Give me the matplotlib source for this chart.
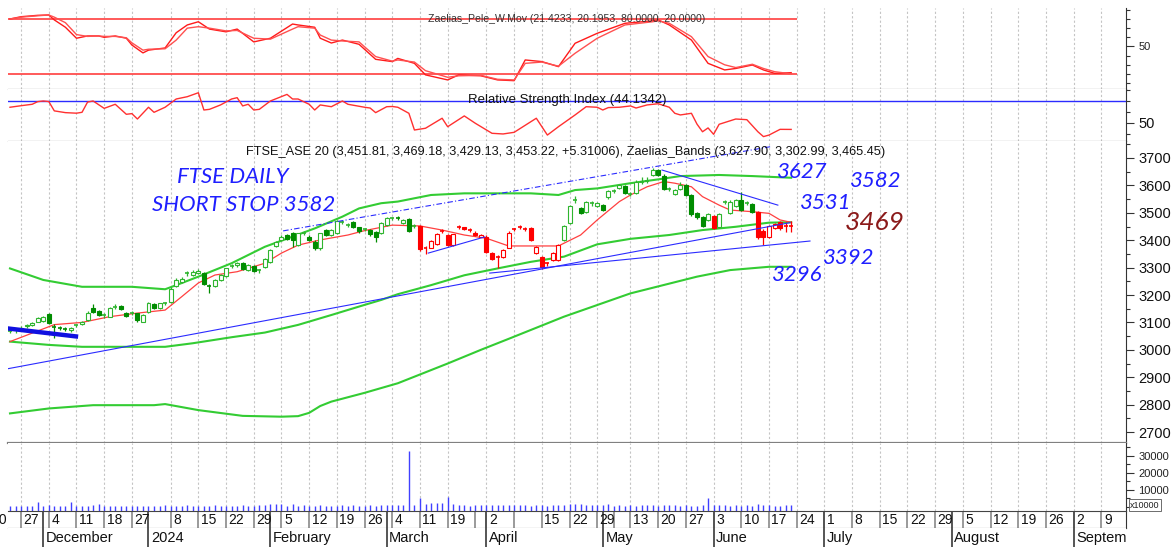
import matplotlib
matplotlib.use("Agg")
import matplotlib.pyplot as plt
from matplotlib.patches import Rectangle
from matplotlib.ticker import MultipleLocator, FixedLocator

plt.rcParams['font.family'] = ['Liberation Sans', 'DejaVu Sans']

# ---- daily candles, trading-day index 0 = 23 Nov 2023 ... 141 = 21 Jun 2024 ----
opens = [
    3068, 3071, 3075, 3086, 3090, 3103, 3105, 3132, 3086, 3080,
    3078, 3072, 3088, 3093, 3108, 3151, 3142, 3126, 3121, 3156,
    3160, 3135, 3132, 3133, 3103, 3139, 3167, 3151, 3169, 3175,
    3233, 3248, 3278, 3272, 3280, 3279, 3234, 3233, 3255, 3270,
    3305, 3308, 3318, 3291, 3306, 3289, 3304, 3321, 3380, 3401,
    3420, 3425, 3383, 3424, 3413, 3395, 3370, 3437, 3419, 3425,
    3467, 3455, 3465, 3447, 3439, 3437, 3431, 3425, 3456, 3479,
    3481, 3463, 3478, 3451, 3452, 3374, 3373, 3385, 3433, 3419,
    3382, 3449, 3447, 3436, 3428, 3413, 3413, 3352, 3341, 3340,
    3373, 3439, 3446, 3441, 3443, 3352, 3340, 3314, 3328, 3328,
    3401, 3462, 3546, 3517, 3504, 3534, 3523, 3529, 3556, 3579,
    3590, 3596, 3567, 3571, 3613, 3616, 3638, 3656, 3635, 3586,
    3568, 3587, 3602, 3565, 3500, 3483, 3474, 3489, 3447, 3539,
    3500, 3525, 3547, 3534, 3532, 3502, 3435, 3411, 3443, 3465,
    3452, 3451.81]
highs = [
    3078, 3080, 3086, 3094, 3102, 3118, 3122, 3136, 3096, 3086,
    3084, 3084, 3096, 3106, 3140, 3167, 3146, 3134, 3155, 3166,
    3164, 3138, 3140, 3136, 3130, 3174, 3170, 3172, 3176, 3228,
    3262, 3264, 3286, 3290, 3294, 3283, 3240, 3258, 3276, 3300,
    3312, 3320, 3322, 3314, 3310, 3296, 3334, 3368, 3398, 3418,
    3424, 3430, 3428, 3432, 3418, 3399, 3428, 3442, 3440, 3475,
    3474, 3462, 3469, 3450, 3446, 3440, 3434, 3466, 3484, 3486,
    3488, 3478, 3482, 3458, 3456, 3380, 3400, 3425, 3442, 3423,
    3424, 3456, 3450, 3444, 3432, 3424, 3418, 3356, 3346, 3368,
    3432, 3446, 3454, 3448, 3447, 3380, 3344, 3320, 3356, 3386,
    3456, 3527, 3560, 3522, 3542, 3542, 3540, 3533, 3585, 3588,
    3606, 3600, 3576, 3618, 3630, 3632, 3662, 3660, 3640, 3594,
    3587, 3614, 3606, 3569, 3504, 3487, 3500, 3493, 3499, 3546,
    3545, 3552, 3577, 3542, 3536, 3506, 3440, 3457, 3463, 3470,
    3466, 3469.18]
lows = [
    3060, 3062, 3068, 3080, 3087, 3100, 3100, 3094, 3042, 3072,
    3070, 3066, 3082, 3090, 3105, 3136, 3124, 3116, 3118, 3148,
    3144, 3118, 3126, 3100, 3100, 3136, 3148, 3149, 3162, 3170,
    3228, 3244, 3270, 3268, 3276, 3236, 3209, 3230, 3251, 3266,
    3298, 3304, 3290, 3288, 3284, 3280, 3300, 3318, 3376, 3398,
    3400, 3375, 3380, 3418, 3396, 3366, 3366, 3415, 3416, 3422,
    3460, 3448, 3446, 3428, 3432, 3417, 3395, 3422, 3452, 3472,
    3474, 3460, 3430, 3444, 3362, 3350, 3370, 3382, 3426, 3378,
    3379, 3442, 3436, 3430, 3414, 3410, 3354, 3326, 3300, 3336,
    3370, 3432, 3440, 3433, 3396, 3349, 3296, 3306, 3324, 3325,
    3398, 3458, 3536, 3494, 3500, 3526, 3520, 3506, 3552, 3572,
    3586, 3567, 3560, 3568, 3606, 3610, 3634, 3634, 3582, 3578,
    3564, 3584, 3560, 3490, 3478, 3447, 3470, 3440, 3444, 3532,
    3497, 3520, 3506, 3527, 3498, 3406, 3382, 3408, 3440, 3438,
    3430, 3429.13]
closes = [
    3070, 3073, 3078, 3090, 3098, 3115, 3120, 3098, 3084, 3079,
    3077, 3080, 3090, 3103, 3136, 3139, 3127, 3127, 3151, 3157,
    3148, 3124, 3133, 3108, 3127, 3170, 3151, 3170, 3170, 3221,
    3255, 3258, 3279, 3285, 3288, 3240, 3233, 3255, 3273, 3297,
    3306, 3316, 3294, 3310, 3288, 3290, 3330, 3364, 3394, 3413,
    3405, 3401, 3425, 3425, 3401, 3370, 3425, 3419, 3437, 3471,
    3468, 3456, 3450, 3432, 3440, 3421, 3413, 3462, 3480, 3480,
    3480, 3474, 3434, 3452, 3367, 3373, 3397, 3421, 3434, 3382,
    3421, 3450, 3440, 3437, 3419, 3419, 3358, 3330, 3340, 3364,
    3428, 3440, 3447, 3440, 3401, 3376, 3303, 3315, 3352, 3382,
    3452, 3523, 3547, 3498, 3538, 3535, 3535, 3510, 3580, 3580,
    3602, 3571, 3568, 3614, 3614, 3617, 3656, 3638, 3587, 3587,
    3583, 3602, 3565, 3495, 3483, 3452, 3495, 3444, 3495, 3540,
    3541, 3547, 3510, 3535, 3502, 3411, 3411, 3453, 3459, 3443,
    3453, 3453.22]
color_runs = [("g", 74), ("r", 26), ("g", 27), ("r", 1), ("g", 7), ("r", 7)]

volume = [
    400, 600, 300, 700, 500, 2900, 500, 900, 300, 600,
    400, 2900, 500, 700, 400, 1000, 1600, 600, 300, 800,
    500, 300, 600, 400, 300, 700, 400, 600, 900, 500,
    800, 500, 900, 600, 400, 800, 500, 1000, 700, 500,
    600, 400, 900, 500, 700, 1000, 1300, 1600, 1500, 1600,
    800, 1600, 700, 900, 500, 600, 1100, 500, 800, 600,
    900, 500, 1000, 700, 600, 1200, 800, 900, 1100, 900,
    1000, 900, 33000, 1200, 5300, 1500, 2300, 2100, 2300, 5700,
    1500, 1400, 1300, 700, 1400, 1100, 900, 1200, 1000, 1100,
    900, 1000, 1100, 1000, 700, 1000, 1100, 800, 1400, 1000,
    900, 1900, 1900, 1500, 1300, 1000, 1200, 900, 1900, 800,
    1000, 700, 1200, 600, 900, 1200, 1200, 800, 1200, 1000,
    1100, 700, 1100, 500, 700, 900, 5300, 900, 1000, 1300,
    800, 1000, 700, 900, 800, 1500, 1100, 1200, 800, 600,
    1100, 1300]

# ---- overlays (index, value) ----
ma_idx = [0, 8, 13, 18, 23, 28, 31, 34, 37, 41, 46, 49, 52, 56, 61, 64, 69, 74, 78, 82,
          86, 90, 94, 99, 100, 103, 106, 110, 112, 115, 118, 120, 123, 125, 128, 130, 134, 137, 139, 141]
ma_val = [3030, 3092, 3100, 3121, 3134, 3145, 3194, 3244, 3273, 3285, 3316, 3353, 3382, 3401, 3419, 3435,
          3455, 3452, 3437, 3419, 3407, 3379, 3379, 3379, 3389, 3419, 3474, 3541, 3565, 3595, 3614, 3608,
          3595, 3559, 3528, 3510, 3504, 3498, 3474, 3465]
ub_idx = [0, 6, 13, 22, 28, 30, 34, 40, 46, 51, 55, 60, 63, 67, 70, 76, 82, 88, 94, 99,
          102, 106, 112, 117, 121, 128, 134, 141]
ub_val = [3297, 3255, 3230, 3230, 3221, 3236, 3267, 3316, 3376, 3413, 3443, 3486, 3516, 3535, 3541, 3565,
          3571, 3571, 3571, 3565, 3583, 3589, 3608, 3622, 3634, 3638, 3634, 3627.9]
mb_idx = [0, 7, 13, 28, 33, 40, 46, 52, 58, 64, 67, 70, 76, 82, 88, 94, 100, 106, 112, 119,
          125, 131, 137, 141]
mb_val = [3030, 3018, 3011, 3011, 3024, 3046, 3063, 3091, 3127, 3164, 3182, 3203, 3236, 3272, 3297, 3321,
          3340, 3385, 3405, 3419, 3437, 3449, 3464, 3465.45]
lb_idx = [0, 7, 15, 26, 28, 34, 42, 49, 52, 54, 56, 58, 64, 70, 79, 85, 90, 100, 112, 124,
          130, 137, 141]
lb_val = [2768, 2786, 2798, 2798, 2802, 2780, 2759, 2756, 2758, 2770, 2795, 2811, 2843, 2878, 2950, 3000,
          3040, 3121, 3206, 3267, 3291, 3303, 3302.99]

trend_thick = ([-0.4, 12.3], [3078, 3048])
trend_long = ([-0.4, 140.8], [2931, 3464])
trend_support = ([86.6, 144.4], [3280, 3397])
trend_march = ([75.5, 85.7], [3353, 3412])
trend_down = ([117.7, 138.6], [3656, 3528])
trend_channel = ([49.3, 137.2], [3434, 3741])

osc_idx = [0, 2, 5, 7, 8, 10, 12, 14, 16, 17, 19, 21, 22, 24, 25, 28, 30, 32, 34, 36,
           39, 41, 44, 47, 51, 52, 55, 56, 58, 60, 63, 66, 69, 70, 73, 75, 79, 81, 85, 88,
           91, 93, 96, 99, 102, 106, 111, 116, 117, 119, 123, 126, 129, 131, 134, 136, 138, 141]
osc_a = [80, 82.5, 84, 84.4, 79, 71, 59, 61.5, 61.5, 60, 61.5, 59, 51.6, 43, 46, 48.4, 65, 73.5, 77, 69,
         66, 69, 55, 59, 74.5, 73.5, 71, 59, 53.8, 57, 52.4, 36, 33.5, 37, 31.6, 19, 13.5, 19, 18, 13.5,
         12.7, 35.3, 33.5, 28, 53.5, 64.4, 75.3, 78, 79, 73.5, 57, 31.6, 24.4, 26, 29.8, 24.4, 20.7, 21.4233]
osc_b = [80, 82, 83.5, 84.4, 82, 76, 63, 61, 61.5, 61, 61, 59.5, 54, 46, 47, 47.5, 57, 70, 71.6, 70,
         67, 67.5, 59, 58, 69, 71.6, 70, 62.5, 57, 56, 55, 39, 34, 35.3, 33, 23.6, 16.4, 18, 18.5, 14.2,
         13.5, 31.6, 33, 28.5, 42.6, 59, 73.5, 77, 78, 75.3, 60.7, 39, 30, 27, 30.6, 26, 22.5, 20.1953]

rsi_idx = [0, 2, 4, 5, 6, 7, 8, 10, 12, 13, 14, 15, 17, 19, 21, 22, 23, 25, 26, 28,
           30, 32, 34, 35, 36, 38, 40, 41, 42, 43, 44, 45, 47, 50, 51, 52, 54, 55, 56, 58,
           60, 61, 64, 65, 66, 68, 69, 70, 72, 73, 75, 78, 79, 82, 84, 87, 89, 91, 95, 97,
           99, 102, 104, 106, 107, 108, 110, 112, 113, 115, 117, 119, 120, 121, 123, 124, 125, 126, 127, 128,
           131, 133, 135, 136, 137, 139, 141]
rsi_val = [64.3, 65.7, 67, 69.4, 70, 69.5, 61, 59.4, 58.9, 59.7, 69, 70, 63.3, 67, 57.9, 58.5, 53.6, 64.3, 59.7, 64.3,
           71.8, 73.9, 77.5, 61.8, 62.4, 66.4, 71.8, 73, 65.5, 67, 61.8, 62.4, 70, 76, 71.8, 71.8, 67, 61.8, 66.4, 64.8,
           70, 67, 64.3, 63.6, 59.4, 64.8, 65, 64.3, 58.8, 43.6, 45.2, 54.3, 46.6, 56.4, 49.7, 40.6, 40, 41.5, 54.3, 39,
           46.6, 57.3, 64.8, 64.3, 61.8, 64, 64.3, 65.5, 63.6, 66.4, 67.5, 64.3, 58.8, 57.3, 58.8, 49, 42, 45.5, 39.7, 48.8,
           53.6, 53, 42, 37.6, 39, 44.2, 44.1342]

# ---- x axis: weekly ticks and month boundaries (trading-day index) ----
week_idx = [2, 7, 12, 17, 22, 29, 34, 39, 44, 49, 54, 59, 64, 69, 74, 79, 84, 86, 91, 96, 101,
            106, 109, 112, 117, 122, 127, 132, 137, 142, 147, 152, 157, 162, 167, 172, 177, 182,
            187, 192, 197]
week_lbl = ["27", "4", "11", "18", "27", "8", "15", "22", "29", "5", "12", "19", "26", "4", "11",
            "19", "", "2", "", "15", "22", "29", "", "13", "20", "27", "3", "10", "17", "24", "1",
            "8", "15", "22", "29", "5", "12", "19", "26", "2", "9"]
month_idx = [6, 25, 47, 68, 86, 107, 127, 147, 170, 192]
month_lbl = ["December", "2024", "February", "March", "April", "May", "June", "July", "August",
             "September"]

W, H = 1176, 547
fig = plt.figure(figsize=(W / 100, H / 100), dpi=100)
X0, X1 = 8, 1126
XMIN, XMAX = -0.36, 201.44


def px_axes(y0, y1):
    return fig.add_axes([X0 / W, 1 - y1 / H, (X1 - X0) / W, (y1 - y0) / H])


ax_osc = px_axes(8, 89)
ax_rsi = px_axes(89, 141)
ax_main = px_axes(141, 443)
ax_vol = px_axes(443, 511)
ax_day = px_axes(511, 528)
ax_mon = px_axes(528, 547)

AX_COL = "#333333"
for ax in [ax_osc, ax_rsi, ax_main, ax_vol, ax_day, ax_mon]:
    ax.set_xlim(XMIN, XMAX)
    ax.set_xticks([])
    ax.spines['left'].set_visible(False)
    ax.spines['top'].set_visible(False)
    ax.spines['right'].set_color(AX_COL)
    ax.spines['bottom'].set_color(AX_COL)
    ax.yaxis.tick_right()
    ax.tick_params(axis='y', which='major', direction='out', length=6, width=0.8, color=AX_COL, pad=3)
    ax.tick_params(axis='y', which='minor', direction='out', length=3, width=0.8, color=AX_COL)

# gridlines at week ticks
for ax in [ax_osc, ax_rsi, ax_main, ax_vol]:
    for t, lbl in zip(week_idx, week_lbl):
        if lbl or t == 91:
            ax.axvline(t, color="#c4c4c4", lw=0.8, ls=(0, (2, 2)), zorder=0)

RED = "#ff1a1a"
BLUE = "#2b2bff"
INK = "#1f1fff"

# ---- oscillator panel ----
ax_osc.set_ylim(3.6, 92)
last = len(closes) - 1
ax_osc.hlines([80, 20], XMIN, last + 1, color="#ff4d4d", lw=1.3)
ax_osc.plot(osc_idx, osc_a, color=RED, lw=1.0)
ax_osc.plot(osc_idx, osc_b, color="#ff5050", lw=1.0)
ax_osc.yaxis.set_major_locator(FixedLocator([50]))
ax_osc.yaxis.set_minor_locator(MultipleLocator(10))
ax_osc.set_yticklabels(["50"], fontsize=8, color="#222")
ax_osc.spines['bottom'].set_color("#222")
fig.text(567 / W, 1 - 19 / H, "Zaelias_Pele_W.Mov (21.4233, 20.1953, 80.0000, 20.0000)",
         ha='center', va='center', fontsize=7.6, color="#333")

# ---- RSI panel ----
ax_rsi.set_ylim(33.6, 80.9)
ax_rsi.axhline(70, color=BLUE, lw=1.0)
ax_rsi.plot(rsi_idx, rsi_val, color="#ff3030", lw=1.0)
ax_rsi.yaxis.set_major_locator(FixedLocator([50]))
ax_rsi.yaxis.set_minor_locator(MultipleLocator(10))
ax_rsi.set_yticklabels(["50"], fontsize=10.5, color="#111")
ax_rsi.spines['bottom'].set_color("#222")
fig.text(567 / W, 1 - 100 / H, "Relative Strength Index (44.1342)",
         ha='center', va='center', fontsize=9.5, color="#111")

# ---- price panel ----
ax_main.set_ylim(2660, 3762)
ax_main.plot(lb_idx, lb_val, color="#33cc33", lw=1.5, zorder=2)
ax_main.plot(mb_idx, mb_val, color="#33cc33", lw=1.5, zorder=2)
ax_main.plot(ub_idx, ub_val, color="#33cc33", lw=1.5, zorder=2)
ax_main.plot(ma_idx, ma_val, color="#ff4040", lw=0.9, zorder=3)

colors = [c for c, n in color_runs for _ in range(n)]
BW = 0.72
for i in range(len(closes)):
    o, h, l, c = opens[i], highs[i], lows[i], closes[i]
    if colors[i] == "g":
        col = "#008c00" if c < o else "#2fb52f"
    else:
        col = "#ff0000"
    ax_main.vlines(i, l, h, color=col, lw=0.9, zorder=4)
    if abs(c - o) < 2.5:
        ax_main.hlines(c, i - BW / 2, i + BW / 2, color=col, lw=1.2, zorder=5)
    else:
        ax_main.add_patch(Rectangle((i - BW / 2, min(o, c)), BW, abs(c - o),
                                    facecolor=col if c < o else "white",
                                    edgecolor=col, lw=0.8, zorder=5))

ax_main.plot(*trend_long, color=BLUE, lw=0.8, zorder=6)
ax_main.plot(*trend_support, color=BLUE, lw=0.8, zorder=6)
ax_main.plot(*trend_march, color=BLUE, lw=0.8, zorder=6)
ax_main.plot(*trend_down, color=BLUE, lw=0.8, zorder=6)
ax_main.plot(*trend_channel, color=BLUE, lw=0.8, ls=(0, (5, 2, 1, 2)), zorder=6)
ax_main.plot(*trend_thick, color="#1010e0", lw=3.2, solid_capstyle='butt', zorder=6)

ax_main.yaxis.set_minor_locator(MultipleLocator(50))
ax_main.set_yticks(range(2700, 3701, 100))
ax_main.set_yticklabels([str(v) for v in range(2700, 3701, 100)], fontsize=10.5, color="#111")
ax_main.spines['bottom'].set_color("#808080")
ax_main.spines['bottom'].set_linewidth(1.6)
fig.text(566 / W, 1 - 152 / H,
         "FTSE_ASE 20 (3,451.81, 3,469.18, 3,429.13, 3,453.22, +5.31006), "
         "Zaelias_Bands (3,627.90, 3,302.99, 3,465.45)",
         ha='center', va='center', fontsize=9.2, color="#111")

# handwritten notes
hand = dict(family=['Lato', 'DejaVu Sans'], style='italic', weight='normal',
            va='center', ha='left', zorder=8)
ax_main.text(30.1, 3631, "FTSE DAILY", color=INK, fontsize=16, **hand)
ax_main.text(25.6, 3528, "SHORT STOP 3582", color=INK, fontsize=16, **hand)
ax_main.text(138.4, 3649, "3627", color=INK, fontsize=16, **hand)
ax_main.text(151.6, 3616, "3582", color=INK, fontsize=16, **hand)
ax_main.text(142.6, 3536, "3531", color=INK, fontsize=16, **hand)
ax_main.text(150.7, 3466, "3469", color="#8b1a1a", fontsize=19, **hand)
ax_main.text(146.8, 3335, "3392", color=INK, fontsize=16, **hand)
ax_main.text(137.5, 3273, "3296", color=INK, fontsize=16, **hand)

# ---- volume panel ----
VMIN = -2400
ax_vol.set_ylim(VMIN, 37600)
ax_vol.vlines(range(len(volume)), VMIN, volume, color="#4040ff", lw=1.0)
ax_vol.set_yticks([10000, 20000, 30000])
ax_vol.set_yticklabels(["10000", "20000", "30000"], fontsize=8, color="#222")
ax_vol.yaxis.set_minor_locator(MultipleLocator(5000))
ax_vol.spines['bottom'].set_visible(False)
fig.text(1130 / W, 1 - 505 / H, "x10000", ha='left', va='center', fontsize=6.5, color="#222",
         bbox=dict(boxstyle='square,pad=0.15', fc='white', ec='#555', lw=0.6))

# ---- date rows ----
for ax in [ax_day, ax_mon]:
    ax.set_ylim(0, 1)
    ax.set_yticks([])
    ax.tick_params(axis='y', which='both', length=0)
ax_day.spines['top'].set_visible(True)
ax_day.spines['top'].set_color("#444")
ax_day.spines['bottom'].set_color("#444")
ax_mon.spines['bottom'].set_visible(False)
ax_mon.spines['right'].set_visible(False)

ax_day.vlines(week_idx, 0, 1, color="#9a9a9a", lw=1.4)
for t, lbl in zip(week_idx, week_lbl):
    ax_day.text(t + 0.45, 0.45, lbl, ha='left', va='center', fontsize=10, color="#111")
ax_day.text(-3.3, 0.45, "20", ha='left', va='center', fontsize=10, color="#111")
ax_day.vlines(month_idx, 0, 1, color="#555", lw=1.4)
ax_mon.vlines(month_idx, 0, 1, color="#555", lw=1.4)
for t, lbl in zip(month_idx, month_lbl):
    ax_mon.text(t + 0.45, 0.45, lbl, ha='left', va='center', fontsize=10.5, color="#111",
                clip_on=True)

fig.savefig("out.png", dpi=100)
